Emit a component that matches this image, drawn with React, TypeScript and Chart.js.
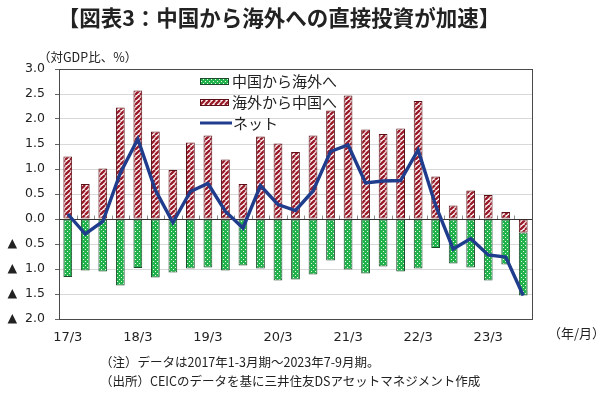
import React, { useEffect, useRef } from 'react';
import { Chart, registerables } from 'chart.js';

Chart.register(...registerables);

const categories = [
  '17/3', '17/6', '17/9', '17/12',
  '18/3', '18/6', '18/9', '18/12',
  '19/3', '19/6', '19/9', '19/12',
  '20/3', '20/6', '20/9', '20/12',
  '21/3', '21/6', '21/9', '21/12',
  '22/3', '22/6', '22/9', '22/12',
  '23/3', '23/6', '23/9',
];

// 中国から海外へ (outward FDI, shown negative)
const outbound = [
  -1.16, -1.03, -1.05, -1.33, -0.98, -1.17, -1.07, -0.99, -0.97, -1.03, -0.93, -0.99, -1.23, -1.21,
  -1.11, -0.83, -1.01, -1.09, -0.95, -1.05, -0.99, -0.58, -0.89, -0.97, -1.23, -0.91, -1.26,
];

// 海外から中国へ (inward FDI)
const inbound = [
  1.25, 0.7, 1.01, 2.23, 2.57, 1.75, 0.98, 1.53, 1.67, 1.19, 0.7, 1.65, 1.51, 1.34,
  1.67, 2.17, 2.47, 1.79, 1.7, 1.81, 2.36, 0.85, 0.27, 0.57, 0.48, 0.14, -0.27,
];

// ネット
const net = [
  0.1, -0.3, -0.05, 0.92, 1.6, 0.58, -0.07, 0.55, 0.71, 0.15, -0.18, 0.67, 0.29, 0.17,
  0.56, 1.35, 1.48, 0.72, 0.76, 0.77, 1.38, 0.27, -0.6, -0.39, -0.72, -0.76, -1.53,
];

const seriesNames = ['中国から海外へ', '海外から中国へ', 'ネット'];
const yMin = -2;
const yMax = 3;
const yStep = 0.5;

const GREEN = '#22b24c';
const RED = '#9a1c2a';
const BLUE = '#1f3d8c';
const JP_FONT = '"Noto Sans CJK JP", "Noto Sans", sans-serif';

function makeStripe(): CanvasPattern | string {
  const c = document.createElement('canvas');
  const s = 5;
  c.width = s;
  c.height = s;
  const g = c.getContext('2d');
  if (!g) return RED;
  g.fillStyle = '#ffffff';
  g.fillRect(0, 0, s, s);
  g.strokeStyle = RED;
  g.lineWidth = 2.4;
  for (const off of [-s, 0, s]) {
    g.beginPath();
    g.moveTo(off, s);
    g.lineTo(off + s, 0);
    g.stroke();
  }
  return g.createPattern(c, 'repeat') || RED;
}

function makeDots(): CanvasPattern | string {
  const c = document.createElement('canvas');
  c.width = 4;
  c.height = 4;
  const g = c.getContext('2d');
  if (!g) return GREEN;
  g.fillStyle = GREEN;
  g.fillRect(0, 0, 4, 4);
  g.fillStyle = '#e2f8e6';
  g.fillRect(1, 1, 1, 1);
  g.fillRect(3, 3, 1, 1);
  return g.createPattern(c, 'repeat') || GREEN;
}

export default function App() {
  const ref = useRef<HTMLCanvasElement>(null);

  useEffect(() => {
    const canvas = ref.current;
    if (!canvas) return;
    const stripe = makeStripe();
    const dots = makeDots();

    const framePlugin = {
      id: 'frame',
      beforeDatasetsDraw(chart: any) {
        const { ctx, chartArea: a, scales } = chart;
        const y0 = Math.round(scales.y.getPixelForValue(0)) + 0.5;
        ctx.save();
        ctx.lineWidth = 1;
        ctx.strokeStyle = '#8c8c8c';
        const n = categories.length;
        for (let i = 1; i < n; i++) {
          const x = Math.round(a.left + ((a.right - a.left) * i) / n) + 0.5;
          ctx.beginPath();
          ctx.moveTo(x, y0);
          ctx.lineTo(x, y0 - 4);
          ctx.stroke();
        }
        ctx.strokeStyle = '#333333';
        ctx.beginPath();
        ctx.moveTo(a.left, y0);
        ctx.lineTo(a.right, y0);
        ctx.stroke();
        ctx.strokeStyle = '#4a4a4a';
        ctx.strokeRect(
          Math.round(a.left) + 0.5,
          Math.round(a.top) + 0.5,
          Math.round(a.right - a.left),
          Math.round(a.bottom - a.top)
        );
        ctx.restore();
      },
    };

    const legendPlugin = {
      id: 'customLegend',
      afterDraw(chart: any) {
        const { ctx } = chart;
        const x = 200;
        const rows = [81, 102, 123];
        ctx.save();
        ctx.font = `15px ${JP_FONT}`;
        ctx.textBaseline = 'middle';
        // row 1: green
        ctx.fillStyle = dots;
        ctx.fillRect(x, rows[0] - 3, 29, 7);
        ctx.strokeStyle = '#1d4a2a';
        ctx.lineWidth = 1;
        ctx.strokeRect(x + 0.5, rows[0] - 3 + 0.5, 28, 6);
        // row 2: red
        ctx.fillStyle = stripe;
        ctx.fillRect(x, rows[1] - 3, 29, 7);
        ctx.strokeStyle = '#5c1016';
        ctx.strokeRect(x + 0.5, rows[1] - 3 + 0.5, 28, 6);
        // row 3: line
        ctx.strokeStyle = BLUE;
        ctx.lineWidth = 3;
        ctx.beginPath();
        ctx.moveTo(x, rows[2]);
        ctx.lineTo(x + 32, rows[2]);
        ctx.stroke();
        ctx.fillStyle = '#222222';
        ctx.fillText(seriesNames[0], x + 32, rows[0]);
        ctx.fillText(seriesNames[1], x + 32, rows[1]);
        ctx.fillText(seriesNames[2], x + 33, rows[2]);
        ctx.restore();
      },
    };

    const chart = new Chart(canvas, {
      type: 'bar',
      data: {
        labels: categories,
        datasets: [
          {
            type: 'bar',
            label: seriesNames[1],
            data: inbound,
            backgroundColor: stripe as any,
            borderColor: '#5c1016',
            borderWidth: 1,
            borderSkipped: false,
            barPercentage: 0.5,
            categoryPercentage: 1,
            order: 1,
          },
          {
            type: 'bar',
            label: seriesNames[0],
            data: outbound,
            backgroundColor: dots as any,
            borderColor: '#1d4a2a',
            borderWidth: 1,
            borderSkipped: false,
            barPercentage: 0.5,
            categoryPercentage: 1,
            order: 2,
          },
          {
            type: 'line',
            label: seriesNames[2],
            data: net,
            borderColor: BLUE,
            backgroundColor: BLUE,
            borderWidth: 3.4,
            pointRadius: 0,
            tension: 0,
            stack: 'net',
            order: -1,
          } as any,
        ],
      },
      options: {
        responsive: false,
        animation: false,
        devicePixelRatio: 1,
        layout: { padding: { left: 0, right: 68, top: 69, bottom: 0 } },
        plugins: {
          legend: { display: false },
          tooltip: { enabled: false },
          title: { display: false },
        },
        scales: {
          x: {
            stacked: true,
            offset: true,
            grid: { display: false, drawTicks: false },
            border: { display: false },
            ticks: {
              autoSkip: false,
              maxRotation: 0,
              padding: 11,
              color: '#222222',
              font: { family: '"DejaVu Sans", sans-serif', size: 13 },
              callback: (_v: any, i: number) => (i % 4 === 0 ? categories[i] : null),
            },
            afterFit: (s: any) => {
              s.height = 77;
            },
          },
          y: {
            stacked: true,
            min: yMin,
            max: yMax,
            grid: {
              color: '#d9d9d9',
              drawTicks: true,
              tickLength: 4,
              tickColor: '#666666',
            },
            border: { display: false },
            ticks: {
              stepSize: yStep,
              padding: 10,
              color: '#222222',
              font: { family: '"DejaVu Sans", sans-serif', size: 12.5 },
              callback: (v: any) => {
                const n = Number(v);
                if (Math.abs(n) < 1e-9) return '0.0';
                return n < 0 ? '▲  ' + Math.abs(n).toFixed(1) : n.toFixed(1);
              },
            },
            afterFit: (s: any) => {
              s.width = 59;
            },
          },
        },
      },
      plugins: [framePlugin, legendPlugin],
    });

    return () => chart.destroy();
  }, []);

  const textColor = '#222222';
  return (
    <div
      style={{
        position: 'fixed',
        left: 0,
        top: 0,
        width: 600,
        height: 396,
        background: '#ffffff',
        overflow: 'hidden',
        fontFamily: JP_FONT,
        color: textColor,
      }}
    >
      <canvas ref={ref} width={600} height={396} style={{ display: 'block', width: 600, height: 396 }} />
      <div
        style={{
          position: 'absolute',
          left: 0,
          width: 558,
          top: 4,
          textAlign: 'center',
          fontSize: 21.5,
          fontWeight: 'bold',
          lineHeight: '25px',
          whiteSpace: 'nowrap',
        }}
      >
        【図表3：中国から海外への直接投資が加速】
      </div>
      <div style={{ position: 'absolute', left: 38, top: 49, fontSize: 12.5, lineHeight: '16px', whiteSpace: 'nowrap' }}>
        （対GDP比、%）
      </div>
      <div style={{ position: 'absolute', left: 548, top: 325, fontSize: 13, lineHeight: '16px', whiteSpace: 'nowrap' }}>
        （年/月）
      </div>
      <div style={{ position: 'absolute', left: 100, top: 352, fontSize: 12.5, lineHeight: '19px', whiteSpace: 'nowrap' }}>
        <div>（注）データは2017年1-3月期～2023年7-9月期。</div>
        <div>（出所）CEICのデータを基に三井住友DSアセットマネジメント作成</div>
      </div>
    </div>
  );
}
